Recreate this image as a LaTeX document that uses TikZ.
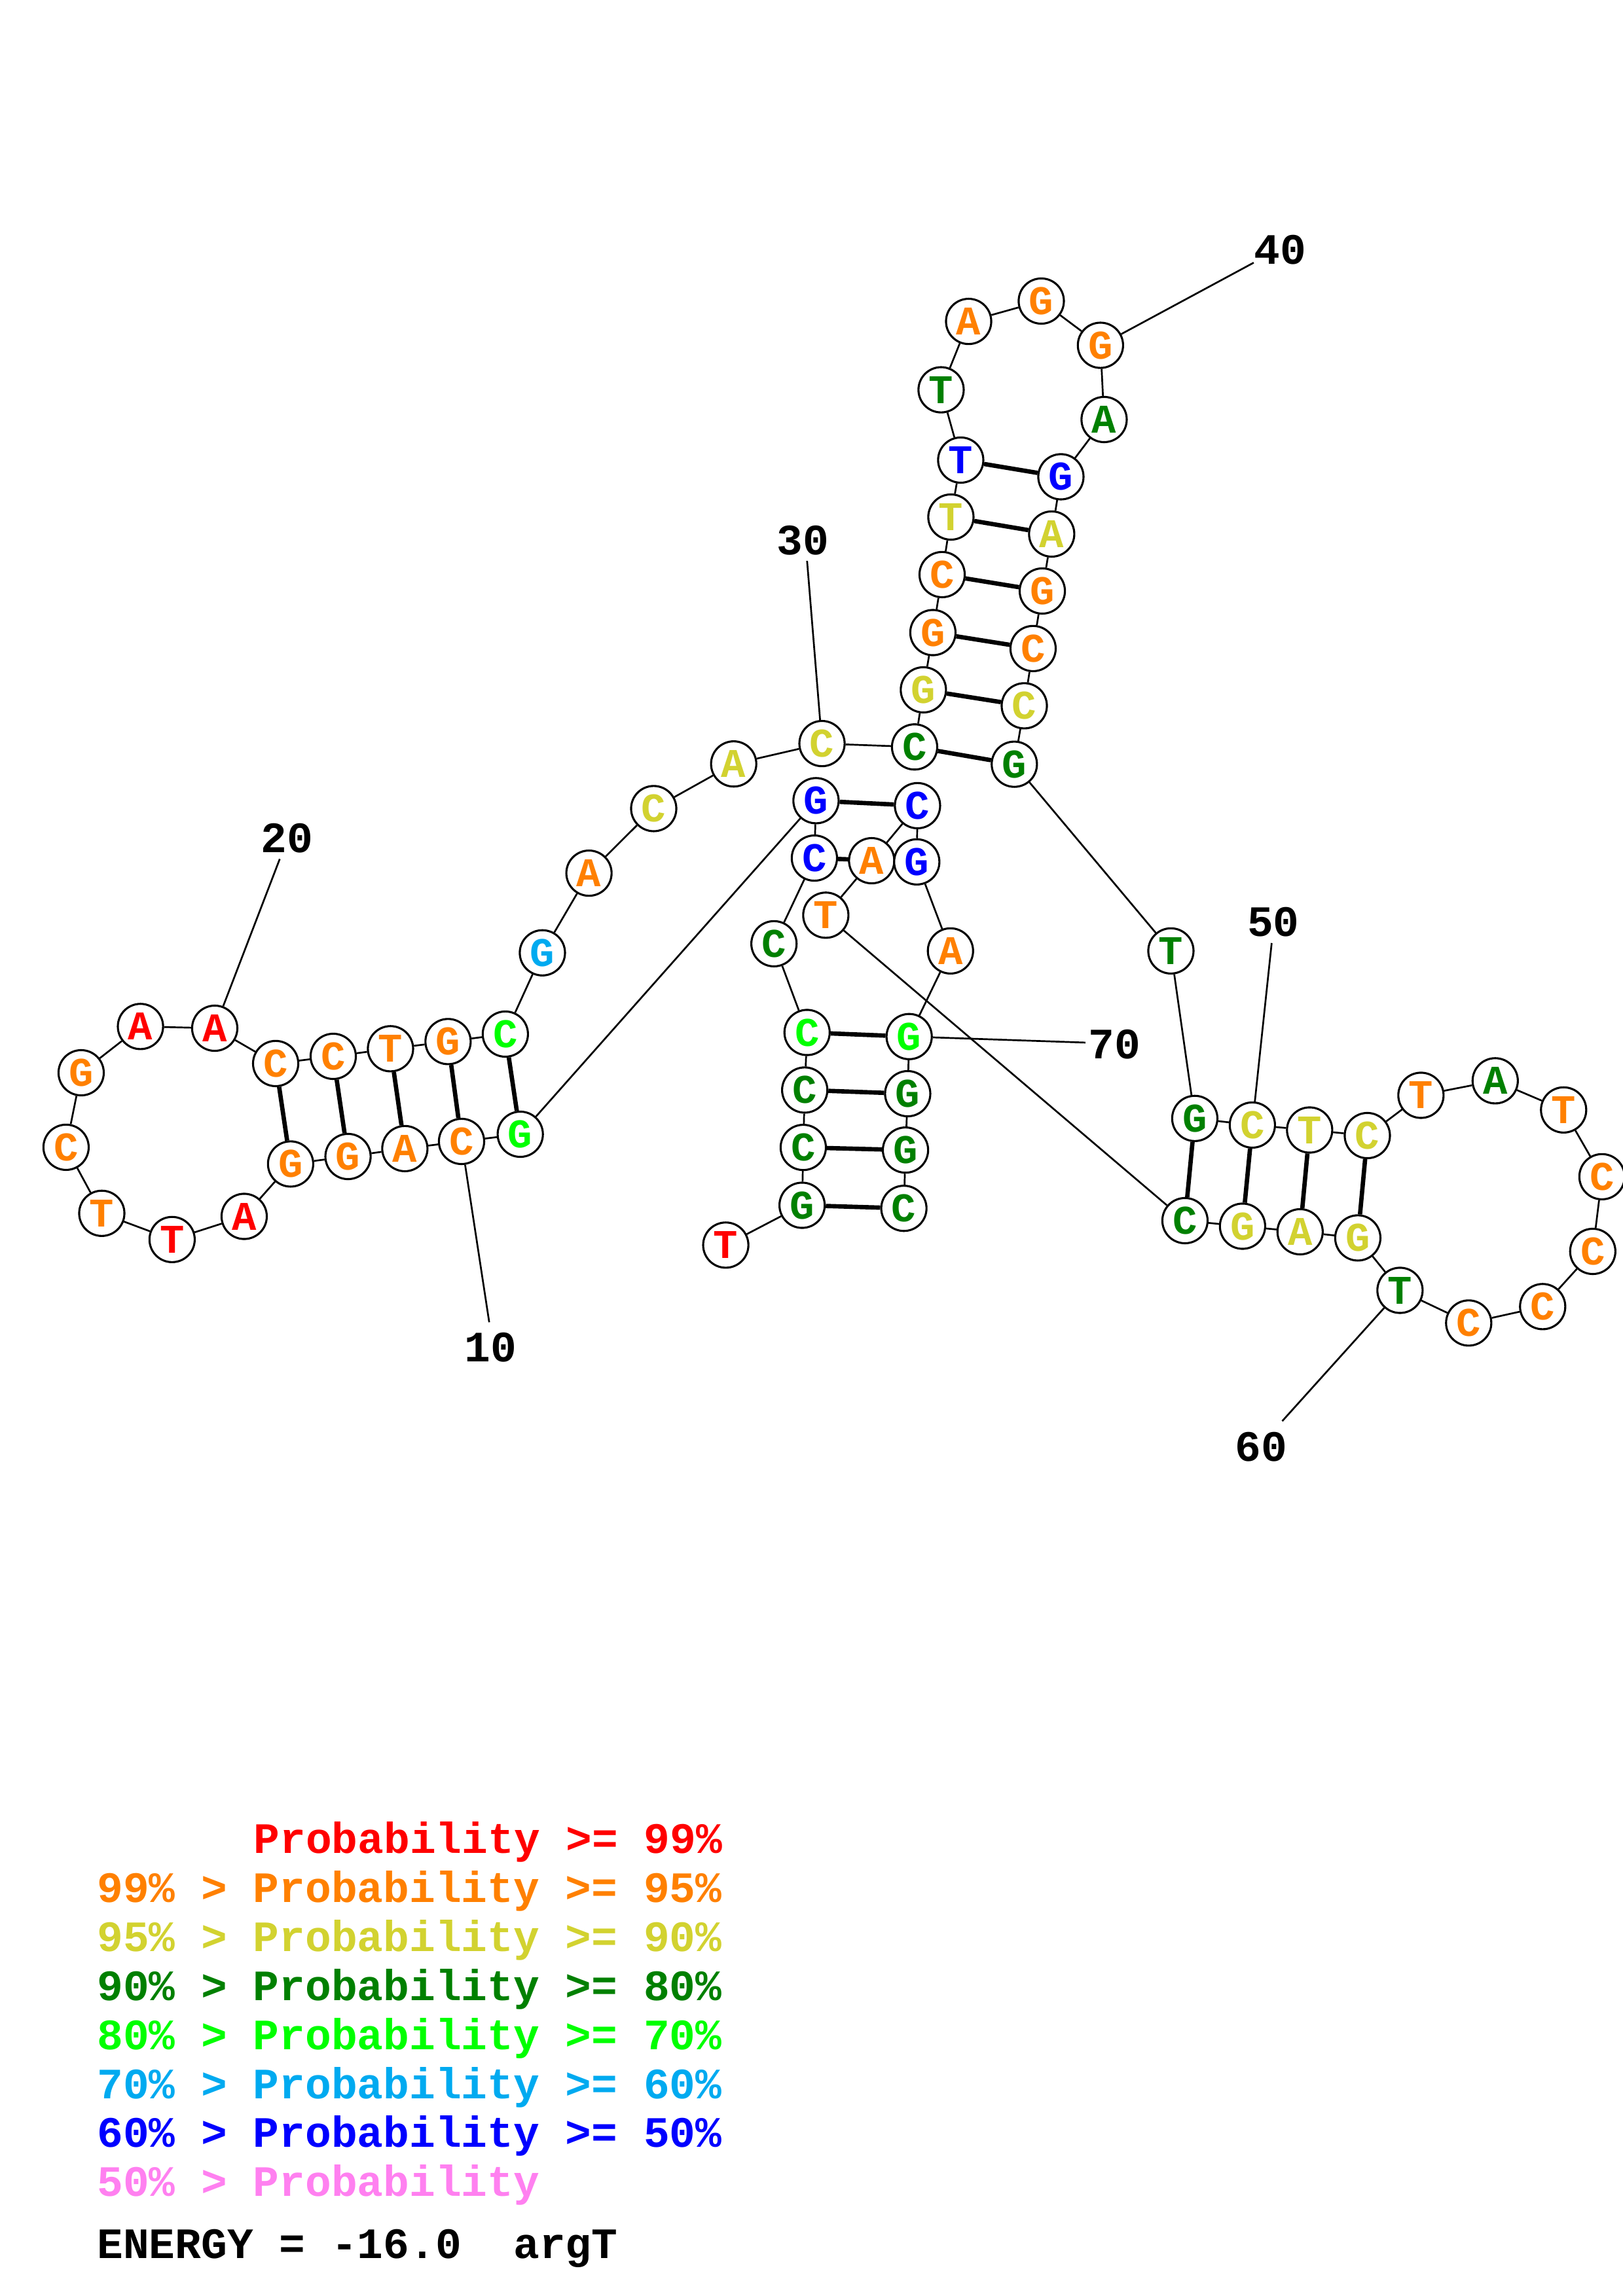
\documentclass[tikz,border=0pt]{standalone}
\usepackage{fontspec}
\setmonofont{Liberation Mono}
\pgfdeclarelayer{bg}
\pgfsetlayers{bg,main}
\definecolor{cR}{RGB}{255,0,0}
\definecolor{cO}{RGB}{255,128,0}
\definecolor{cY}{RGB}{210,210,48}
\definecolor{cD}{RGB}{0,128,0}
\definecolor{cL}{RGB}{0,255,0}
\definecolor{cS}{RGB}{0,170,240}
\definecolor{cB}{RGB}{0,0,255}
\definecolor{cP}{RGB}{255,128,240}
\tikzset{
  nt/.style={circle, draw=black, line width=0.75pt, fill=white, minimum size=0.585cm, inner sep=0pt,
    font=\fontsize{15}{15}\selectfont\ttfamily\bfseries},
  bb/.style={line width=0.65pt},
  bp/.style={line width=1.6pt},
  lbl/.style={inner sep=0pt, font=\fontsize{15.95}{16}\selectfont\ttfamily\bfseries},
  leg/.style={anchor=base west, inner sep=0pt, font=\fontsize{15.95}{16}\selectfont\ttfamily\bfseries},
}
\begin{document}
\begin{tikzpicture}[x=0.018943cm,y=-0.018943cm]
\useasboundingbox (0,0) rectangle (1108,1568);
\foreach \i/\x/\y/\c/\l in {
1/495.5/850.3/cR/T, 2/547.6/823.1/cD/G, 3/548.4/783.6/cD/C, 4/549.4/744.4/cD/C,
5/551/705.1/cL/C, 6/528.4/644.5/cD/C, 7/556/586/cB/C, 8/557.1/546.8/cB/G,
9/355.2/774.6/cL/G, 10/315.1/779.5/cO/C, 11/276.4/784.4/cO/A, 12/237.6/789.8/cO/G,
13/198.4/794.9/cO/G, 14/166.7/830.7/cR/A, 15/117.5/846.5/cR/T, 16/69.5/828.6/cO/T,
17/45.1/783.5/cO/C, 18/55.4/732.6/cO/G, 19/95.9/701/cR/A, 20/146.6/702.2/cR/A,
21/188.2/726.3/cO/C, 22/227.5/721.4/cO/C, 23/266.6/716.2/cO/T, 24/305.9/711.3/cO/G,
25/345/706.2/cL/C, 26/370.3/650.7/cS/G, 27/402.1/596.3/cO/A, 28/446.3/552.2/cY/C,
29/500.9/521.7/cY/A, 30/561.2/507.8/cY/C, 31/624.4/510.1/cD/C, 32/630.4/471.1/cY/G,
33/636.9/432/cO/G, 34/643.2/392.4/cO/C, 35/649.2/353.1/cY/T, 36/655.9/314.2/cB/T,
37/642.5/266.2/cD/T, 38/661.3/219.5/cO/A, 39/710.9/205.6/cO/G, 40/751.3/235.8/cO/G,
41/753.8/286.5/cD/A, 42/724.3/325.6/cB/G, 43/718/364.7/cY/A, 44/711.6/403.6/cO/G,
45/705.3/442.9/cO/C, 46/699.3/482/cY/C, 47/692.5/521.9/cD/G, 48/799.4/649.4/cD/T,
49/815.7/763.8/cD/G, 50/855/768.3/cY/C, 51/894.1/771.7/cY/T, 52/933.5/775.5/cY/C,
53/970.1/748/cO/T, 54/1020.8/738.1/cD/A, 55/1067.5/758/cO/T, 56/1093.7/803.6/cO/C,
57/1087.4/854.6/cO/C, 58/1053.2/892.3/cO/C, 59/1002.7/903.5/cO/C, 60/955.8/881.2/cD/T,
61/927/845.4/cY/G, 62/887.6/841.2/cY/A, 63/848.3/837.4/cY/G, 64/809/833.6/cD/C,
65/563.8/625/cO/T, 66/595.1/587.8/cO/A, 67/626.4/550.2/cB/C, 68/625.9/588.6/cB/G,
69/648.9/649.4/cO/A, 70/620.7/707.9/cL/G, 71/619.7/746.9/cD/G, 72/618.2/785.4/cD/G,
73/617.1/825.2/cD/C}
{ \node[nt,text=\c] (n\i) at (\x,\y) {\l}; }
% position labels
\node[lbl] (t10) at (335,920) {10};
\node[lbl] (t20) at (196,572.5) {20};
\node[lbl] (t30) at (548,369) {30};
\node[lbl] (t40) at (874,170.5) {40};
\node[lbl] (t50) at (869.3,629.7) {50};
\node[lbl] (t60) at (861,988) {60};
\node[lbl] (t70) at (761,713) {70};
\coordinate (e10) at (334,903);
\coordinate (e20) at (191,586.6);
\coordinate (e30) at (551,383);
\coordinate (e40) at (855.9,179.4);
\coordinate (e50) at (868.2,644);
\coordinate (e60) at (875.4,970.5);
\coordinate (e70) at (741,712);
\begin{pgfonlayer}{bg}
\foreach \i [evaluate=\i as \j using int(\i+1)] in {1,...,72}
  { \draw[bb] (n\i) -- (n\j); }
\foreach \a/\b in {2/73,3/72,4/71,5/70,7/68,8/67,9/25,10/24,11/23,12/22,13/21,
  31/47,32/46,33/45,34/44,35/43,36/42,49/64,50/63,51/62,52/61}
  { \draw[bp] (n\a) -- (n\b); }
\foreach \k in {10,20,30,40,50,60,70}
  { \draw[bb] (n\k) -- (e\k); }
\end{pgfonlayer}
% legend
\node[leg,text=cR] (g1) at (172.9,1265.8) {Probability >= 99\%};
\node[leg,text=cO] (g2) at (66,1299.1) {99\% > Probability >= 95\%};
\node[leg,text=cY] (g3) at (66,1332.6) {95\% > Probability >= 90\%};
\node[leg,text=cD] (g4) at (66,1366.1) {90\% > Probability >= 80\%};
\node[leg,text=cL] (g5) at (66,1399.8) {80\% > Probability >= 70\%};
\node[leg,text=cS] (g6) at (66,1433.1) {70\% > Probability >= 60\%};
\node[leg,text=cB] (g7) at (66,1466.5) {60\% > Probability >= 50\%};
\node[leg,text=cP] (g8) at (66,1500) {50\% > Probability};
\node[leg,text=black] (g9) at (66,1542.5) {ENERGY = -16.0\ \ argT};
\end{tikzpicture}
\end{document}
